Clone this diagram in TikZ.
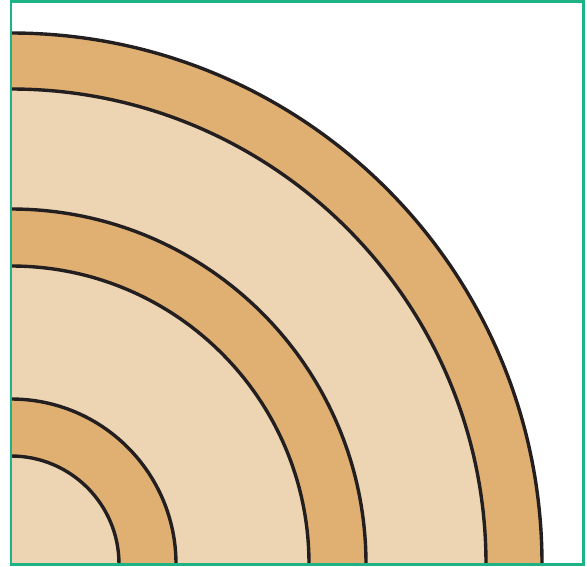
\documentclass[tikz,border=0pt]{standalone}
\usepackage{tikz}
\definecolor{ringdark}{HTML}{E0B073}
\definecolor{ringlight}{HTML}{EDD4B2}
\definecolor{edgeline}{HTML}{231F20}
\definecolor{framegreen}{HTML}{1DB384}

\begin{document}
\begin{tikzpicture}[x=1pt,y=-1pt,
  ring/.style={draw=edgeline,line width=3.4pt},
  frame/.style={draw=framegreen,line width=2.4pt}]
\useasboundingbox (0,0) rectangle (587,566);
\coordinate (ctr) at (11,564);
% rings, from the outside in
\foreach \r/\c in {531/ringdark,475/ringlight,355/ringdark,298/ringlight,165/ringdark,108/ringlight}
  \fill[\c] (ctr) -- ++(\r,0) arc[start angle=0,end angle=-90,radius=\r] -- cycle;
\foreach \r in {531,475,355,298,165,108}
  \draw[ring] (ctr) ++(\r,0) arc[start angle=0,end angle=-90,radius=\r];
\draw[frame] (11,1.5) rectangle (583.5,564.5);
\end{tikzpicture}
\end{document}
